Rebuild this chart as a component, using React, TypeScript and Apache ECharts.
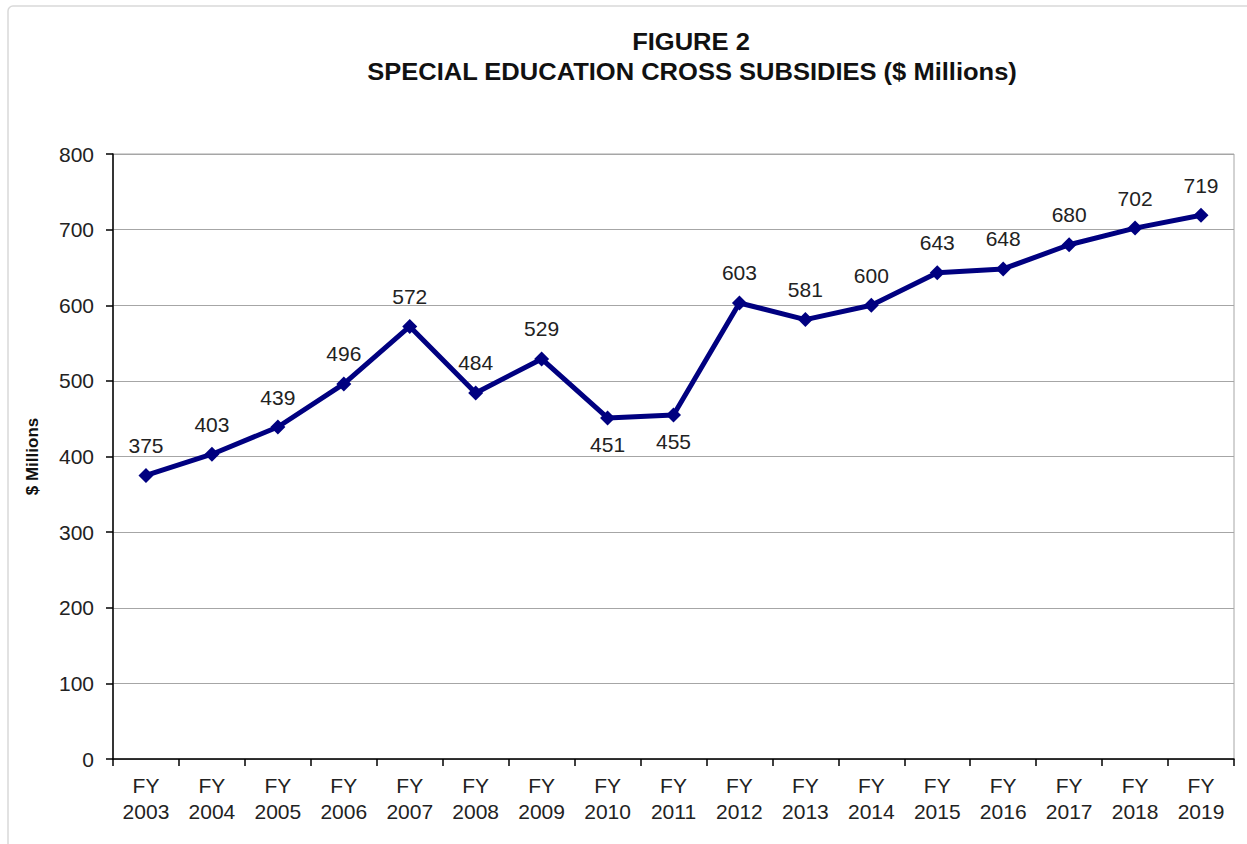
import React, { useEffect, useRef } from "react";
import * as echarts from "echarts";

const categories = ["FY\n2003","FY\n2004","FY\n2005","FY\n2006","FY\n2007","FY\n2008","FY\n2009","FY\n2010","FY\n2011","FY\n2012","FY\n2013","FY\n2014","FY\n2015","FY\n2016","FY\n2017","FY\n2018","FY\n2019"];
const values = [375, 403, 439, 496, 572, 484, 529, 451, 455, 603, 581, 600, 643, 648, 680, 702, 719];
const belowLabels = [7, 8];
const titleLines = ["FIGURE 2", "SPECIAL EDUCATION CROSS SUBSIDIES ($ Millions)"];
const yAxisName = "$ Millions";

export default function App() {
  const ref = useRef<HTMLDivElement>(null);
  useEffect(() => {
    const chart = echarts.init(ref.current!, null, { renderer: "svg" });
    const font = "Liberation Sans, Arial, sans-serif";
    chart.setOption({
      animation: false,
      textStyle: { fontFamily: font },
      graphic: [
        { type: "rect", shape: { x: 8, y: 6, width: 1300, height: 900, r: 5 }, style: { fill: "none", stroke: "#d9d9d9", lineWidth: 1.5 }, silent: true },
        { type: "text", x: 691, y: 42, scaleX: 1.11, style: { text: titleLines[0], textAlign: "center", textVerticalAlign: "middle", font: `bold 23px ${font}`, fill: "#111" } },
        { type: "text", x: 692, y: 72, scaleX: 1.11, style: { text: titleLines[1], textAlign: "center", textVerticalAlign: "middle", font: `bold 23px ${font}`, fill: "#111" } },
      ],
      grid: { left: 113, right: 13, top: 154, bottom: 85, show: true, borderColor: "#a6a6a6", borderWidth: 1, backgroundColor: "transparent" },
      xAxis: {
        type: "category",
        data: categories,
        boundaryGap: true,
        axisLine: { lineStyle: { color: "#000", width: 1.5 } },
        axisTick: { show: true, length: 7, alignWithLabel: false, lineStyle: { color: "#000", width: 1.5 } },
        axisLabel: { color: "#222", fontSize: 21, lineHeight: 26, margin: 13, interval: 0, fontFamily: font },
      },
      yAxis: {
        type: "value",
        min: 0,
        max: 800,
        interval: 100,
        name: yAxisName,
        nameLocation: "middle",
        nameGap: 72,
        nameRotate: 90,
        nameTextStyle: { fontWeight: "bold", fontSize: 17, color: "#111", fontFamily: font },
        axisLine: { show: true, lineStyle: { color: "#000", width: 1.5 } },
        axisTick: { show: true, length: 7, lineStyle: { color: "#000", width: 1.5 } },
        axisLabel: { color: "#222", fontSize: 21, margin: 19, fontFamily: font },
        splitLine: { lineStyle: { color: "#a6a6a6", width: 1 } },
      },
      series: [
        {
          type: "line",
          data: values.map((v, i) => ({
            value: v,
            label: belowLabels.includes(i) ? { position: "bottom", distance: 9 } : { position: "top" },
          })),
          symbol: "diamond",
          symbolSize: 15,
          lineStyle: { color: "#000080", width: 5 },
          itemStyle: { color: "#000080" },
          label: { show: true, fontSize: 21, color: "#222", distance: 12, fontFamily: font },
        },
      ],
    });
    return () => chart.dispose();
  }, []);
  return <div ref={ref} style={{ position: "fixed", left: 0, top: 0, width: 1247, height: 844, background: "#fff" }} />;
}
